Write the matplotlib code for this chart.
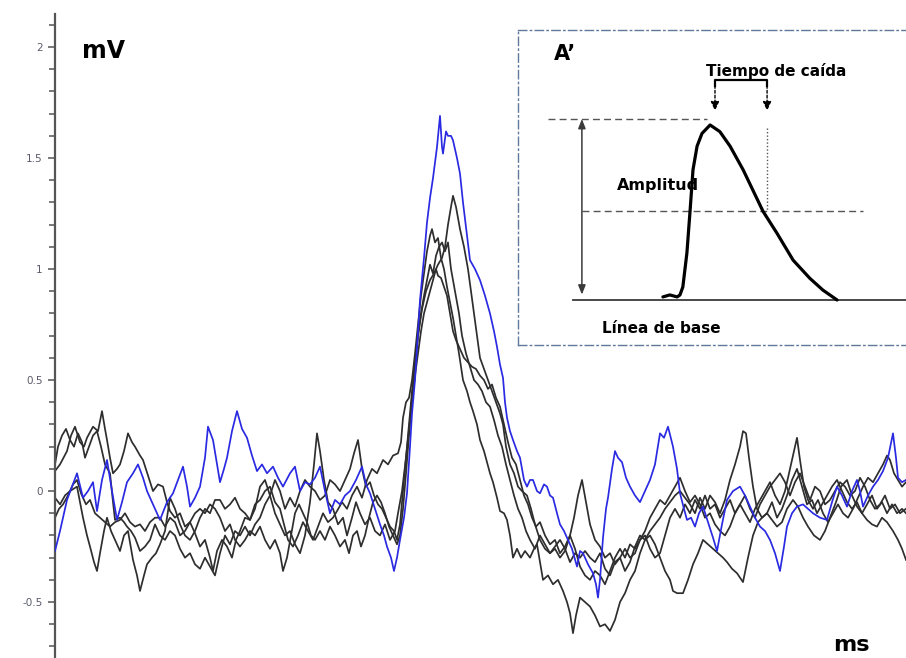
import matplotlib
matplotlib.use("Agg")
import matplotlib.pyplot as plt
import numpy as np

# ---------------- data (sample index at 10 kHz, value in mV) ----------------
SAMPLE_MS = 0.1

blue_s = [0,5,12,17,22,28,33,38,42,47,52,57,62,67,72,78,83,88,92,98,105,112,118,123,128,132,135,140,145,150,
          153,158,162,165,169,172,177,182,187,192,197,202,207,212,218,223,228,235,240,245,250,255,260,265,270,275,280,285,290,295,
          301,307,311,315,320,325,329,332,336,339,342,345,349,352,355,357,360,363,365,369,372,375,378,382,385,387,388,391,393,396,
          398,402,405,408,412,415,420,425,430,435,439,442,445,448,450,452,455,458,462,465,469,472,475,478,482,485,489,492,495,498,
          502,505,509,512,517,522,525,528,533,538,541,543,545,548,551,553,557,560,563,567,571,575,580,585,590,595,600,605,609,613,
          618,622,625,629,632,636,640,644,648,653,658,662,667,672,678,685,690,695,700,705,710,715,720,725,729,732,737,742,748,753,
          758,765,772,777,782,787,792,797,802,805,808,813,818,823,828,833,838,841,843,847,851]
blue_v = [-0.27,-0.18,-0.04,0.02,0.08,-0.03,0.0,0.04,-0.09,0.05,0.14,0.0,-0.13,-0.05,0.04,0.08,0.12,0.06,0.0,-0.06,
          -0.13,-0.05,-0.01,0.05,0.11,0.02,-0.07,-0.03,0.02,0.15,0.29,0.23,0.12,0.04,0.10,0.15,0.27,0.36,0.28,0.24,
          0.16,0.09,0.12,0.08,0.11,0.06,0.02,0.08,0.11,0.0,0.04,0.03,0.06,0.11,0.0,-0.1,-0.04,-0.06,-0.02,0.0,
          0.05,0.11,0.03,-0.01,-0.08,-0.15,-0.2,-0.25,-0.30,-0.36,-0.30,-0.22,-0.12,-0.01,0.2,0.35,0.5,0.72,0.86,1.05,
          1.21,1.32,1.41,1.55,1.69,1.55,1.52,1.62,1.60,1.60,1.58,1.50,1.43,1.30,1.15,1.04,1.00,0.95,0.88,0.80,
          0.72,0.65,0.57,0.51,0.40,0.33,0.27,0.23,0.18,0.15,0.05,0.02,0.05,0.05,0.0,-0.01,0.03,0.02,-0.02,-0.03,
          -0.10,-0.15,-0.18,-0.21,-0.26,-0.34,-0.27,-0.28,-0.33,-0.37,-0.42,-0.48,-0.40,-0.21,-0.08,-0.03,0.10,0.18,0.15,0.13,
          0.06,0.02,-0.02,-0.05,0.0,0.05,0.12,0.26,0.24,0.29,0.20,0.10,-0.01,-0.08,-0.13,-0.12,-0.16,-0.10,-0.07,-0.14,
          -0.21,-0.27,-0.15,-0.04,0.0,0.02,-0.02,-0.07,-0.12,-0.16,-0.18,-0.22,-0.28,-0.36,-0.25,-0.16,-0.10,-0.07,-0.06,-0.08,
          -0.10,-0.12,-0.13,-0.05,0.02,-0.02,-0.07,0.0,0.05,0.0,-0.07,-0.02,0.02,0.05,0.09,0.15,0.26,0.15,0.06,0.04,
          0.05]

black1 = [(0,0.09),(5,0.12),(12,0.18),(16,0.25),(20,0.29),(25,0.22),(29,0.20),(32,0.24),(38,0.29),(43,0.27),(47,0.36),(50,0.28),
          (52,0.23),(55,0.15),(58,0.08),(62,0.10),(65,0.12),(69,0.18),(73,0.26),(77,0.22),(80,0.20),(85,0.16),(88,0.14),(93,0.07),
          (98,0.0),(103,0.03),(108,0.02),(112,-0.05),(115,-0.09),(120,-0.12),(125,-0.10),(130,-0.16),(135,-0.14),(140,-0.19),
          (145,-0.25),(150,-0.22),(155,-0.30),(158,-0.36),(162,-0.27),(167,-0.22),(172,-0.25),(177,-0.30),(181,-0.22),(185,-0.18),
          (190,-0.12),(195,-0.13),(200,-0.08),(205,0.02),(210,0.05),(215,-0.02),(220,-0.10),(225,-0.15),(230,-0.20),(235,-0.18),
          (240,-0.24),(245,-0.28),(250,-0.20),(255,-0.05),(259,0.12),(262,0.26),(265,0.18),(269,0.05),(273,-0.05),(278,-0.08),
          (283,-0.15),(288,-0.12),(292,-0.20),(297,-0.12),(301,-0.05),(305,-0.10),(310,-0.15),(315,-0.12),(320,-0.18),(325,-0.20),
          (330,-0.15),(335,-0.22),(340,-0.18),(343,-0.10),(347,0.0),(351,0.15),(355,0.32),(359,0.52),(363,0.70),(367,0.82),
          (371,0.90),(375,0.95),(379,0.98),(383,1.02),(387,1.05),(390,1.10),(393,1.20),(396,1.28),(398,1.33),(401,1.28),
          (405,1.18),(409,1.10),(413,1.00),(416,0.90),(419,0.80),(422,0.70),(425,0.60),(429,0.55),(433,0.50),(437,0.45),
          (441,0.40),(445,0.35),(448,0.30),(451,0.20),(455,0.12),(459,0.08),(463,0.02),(467,0.0),(472,-0.02),(476,-0.08),
          (480,-0.15),(485,-0.22),(490,-0.26),(495,-0.28),(500,-0.26),(505,-0.30),(510,-0.27),(515,-0.20),(519,-0.12),(523,-0.02),
          (527,0.05),(531,-0.05),(535,-0.15),(540,-0.22),(545,-0.25),(550,-0.30),(555,-0.28),(560,-0.33),(565,-0.30),(570,-0.36),
          (575,-0.32),(580,-0.25),(585,-0.20),(590,-0.22),(595,-0.18),(600,-0.15),(605,-0.12),(610,-0.08),(615,-0.05),(620,-0.02),
          (625,0.0),(630,-0.03),(635,-0.06),(640,-0.10),(645,-0.03),(650,-0.08),(655,-0.02),(660,-0.05),(665,-0.10),(670,-0.04),
          (675,0.05),(680,0.12),(685,0.20),(688,0.27),(691,0.26),(694,0.15),(698,0.02),(702,-0.08),(707,-0.12),(712,-0.10),
          (717,-0.05),(722,-0.12),(727,-0.08),(732,-0.02),(737,0.05),(742,0.10),(747,0.02),(752,-0.06),(757,-0.04),(762,-0.10),
          (767,-0.06),(772,-0.02),(777,0.02),(782,0.05),(787,0.0),(792,-0.05),(797,-0.08),(802,-0.05),(807,-0.10),(812,-0.06),
          (817,-0.02),(822,-0.08),(827,-0.05),(832,-0.10),(837,-0.06),(842,-0.10),(847,-0.08),(851,-0.10)]

black2 = [(0,-0.03),(5,-0.06),(10,-0.02),(15,0.0),(22,0.02),(25,-0.05),(28,-0.12),(32,-0.20),(35,-0.25),(39,-0.32),(42,-0.36),
          (45,-0.28),(49,-0.18),(52,-0.12),(56,-0.18),(60,-0.22),(65,-0.27),(69,-0.20),(73,-0.18),(78,-0.31),(82,-0.38),(85,-0.45),
          (89,-0.38),(92,-0.33),(97,-0.30),(101,-0.28),(105,-0.24),(110,-0.18),(115,-0.03),(120,-0.08),(125,-0.15),(130,-0.20),
          (135,-0.22),(140,-0.18),(145,-0.12),(150,-0.08),(155,-0.10),(160,-0.04),(165,-0.04),(170,-0.08),(175,-0.06),(180,-0.03),
          (185,-0.08),(190,-0.10),(195,-0.13),(200,-0.06),(205,-0.04),(210,0.0),(215,0.02),(220,-0.05),(225,-0.08),(229,-0.15),
          (233,-0.22),(238,-0.25),(243,-0.20),(248,-0.14),(253,-0.18),(258,-0.22),(263,-0.16),(268,-0.10),(273,-0.14),(278,-0.12),
          (282,-0.09),(287,-0.05),(292,-0.08),(297,-0.02),(302,0.02),(307,-0.03),(312,0.05),(317,0.10),(322,0.08),(328,0.14),
          (333,0.12),(338,0.16),(343,0.17),(346,0.22),(348,0.33),(351,0.40),(354,0.42),(357,0.50),(360,0.62),(363,0.75),
          (366,0.88),(369,0.98),(372,1.08),(375,1.15),(377,1.18),(380,1.12),(383,1.14),(386,1.05),(389,1.00),(392,0.92),
          (395,0.85),(398,0.78),(401,0.70),(404,0.62),(408,0.50),(412,0.45),(415,0.40),(418,0.36),(422,0.30),(425,0.23),
          (429,0.18),(432,0.13),(435,0.08),(438,0.04),(442,-0.03),(445,-0.09),(449,-0.10),(452,-0.13),(455,-0.20),(458,-0.30),
          (462,-0.26),(466,-0.30),(470,-0.27),(475,-0.30),(479,-0.26),(482,-0.24),(485,-0.32),(488,-0.40),(493,-0.38),(498,-0.42),
          (503,-0.40),(508,-0.45),(512,-0.50),(515,-0.55),(518,-0.64),(521,-0.56),(525,-0.48),(530,-0.50),(535,-0.52),(540,-0.56),
          (545,-0.61),(550,-0.60),(555,-0.63),(560,-0.58),(565,-0.50),(570,-0.46),(575,-0.40),(580,-0.36),(585,-0.28),(590,-0.22),
          (595,-0.20),(600,-0.24),(605,-0.30),(610,-0.36),(615,-0.40),(618,-0.45),(622,-0.46),(628,-0.46),(633,-0.40),(638,-0.33),
          (643,-0.28),(648,-0.22),(653,-0.24),(658,-0.26),(663,-0.28),(668,-0.30),(672,-0.32),(677,-0.35),(682,-0.37),(688,-0.41),
          (693,-0.30),(698,-0.20),(703,-0.14),(707,-0.12),(712,-0.10),(717,-0.13),(722,-0.16),(727,-0.14),(732,-0.08),(738,-0.04),
          (743,-0.07),(748,-0.12),(753,-0.16),(759,-0.20),(765,-0.22),(770,-0.18),(775,-0.12),(781,-0.05),(786,0.02),(792,0.05),
          (797,-0.02),(802,-0.07),(807,-0.10),(812,-0.13),(817,-0.15),(822,-0.16),(827,-0.12),(832,-0.14),(838,-0.18),(843,-0.22),
          (847,-0.26),(851,-0.31)]

black3 = [(0,0.12),(3,0.20),(7,0.25),(11,0.28),(15,0.23),(19,0.20),(23,0.26),(27,0.22),(30,0.15),(34,0.20),(38,0.25),(42,0.27),
          (46,0.20),(50,0.12),(55,0.08),(58,-0.05),(60,-0.13),(65,-0.12),(69,-0.14),(72,-0.16),(76,-0.18),(80,-0.21),(85,-0.27),
          (90,-0.25),(95,-0.22),(100,-0.15),(105,-0.20),(110,-0.22),(115,-0.18),(120,-0.20),(125,-0.26),(130,-0.30),(135,-0.28),
          (140,-0.33),(145,-0.35),(150,-0.30),(155,-0.34),(160,-0.38),(165,-0.28),(170,-0.20),(175,-0.24),(180,-0.18),(185,-0.20),
          (190,-0.16),(195,-0.20),(200,-0.15),(205,-0.12),(210,-0.06),(215,-0.02),(220,0.05),(225,0.0),(230,-0.08),(235,-0.03),
          (240,-0.07),(245,0.0),(250,0.05),(255,0.02),(260,0.0),(265,-0.04),(270,-0.02),(275,0.05),(280,0.03),(285,0.0),
          (290,0.05),(295,0.10),(299,0.17),(303,0.23),(307,0.10),(311,0.02),(315,0.04),(319,-0.02),(323,-0.06),(327,-0.08),
          (331,-0.12),(335,-0.16),(339,-0.18),(342,-0.22),(345,-0.15),(348,0.0),(351,0.15),(354,0.30),(357,0.45),(360,0.58),
          (363,0.70),(366,0.80),(369,0.88),(372,0.95),(375,1.02),(378,0.98),(381,1.06),(384,1.10),(387,1.12),(390,1.08),
          (393,1.12),(396,1.00),(400,0.90),(404,0.80),(407,0.70),(411,0.62),(415,0.56),(419,0.50),(423,0.48),(427,0.45),
          (431,0.40),(435,0.38),(439,0.32),(443,0.25),(447,0.20),(451,0.12),(455,0.05),(459,-0.02),(463,-0.08),(467,-0.12),
          (471,-0.18),(475,-0.22),(480,-0.26),(485,-0.20),(490,-0.24),(495,-0.28),(500,-0.25),(505,-0.22),(510,-0.26),(515,-0.32),
          (520,-0.28),(525,-0.30),(530,-0.27),(535,-0.30),(540,-0.32),(545,-0.28),(550,-0.35),(555,-0.38),(560,-0.32),(565,-0.30),
          (570,-0.26),(575,-0.30),(580,-0.28),(585,-0.22),(590,-0.18),(595,-0.12),(600,-0.08),(605,-0.04),(610,-0.06),(615,-0.02),
          (620,0.02),(625,0.06),(630,0.0),(635,-0.05),(640,-0.02),(645,-0.06),(650,-0.12),(655,-0.10),(660,-0.15),(665,-0.18),
          (670,-0.20),(675,-0.16),(680,-0.10),(685,-0.06),(690,-0.10),(695,-0.14),(700,-0.08),(705,-0.04),(710,0.0),(715,0.04),
          (720,-0.02),(725,-0.06),(730,0.0),(735,0.10),(739,0.18),(742,0.24),(745,0.14),(749,0.02),(753,-0.04),(758,-0.08),
          (763,-0.04),(768,-0.10),(773,-0.14),(778,-0.10),(783,-0.06),(788,-0.10),(793,-0.12),(798,-0.08),(803,-0.03),(808,0.02),
          (813,0.06),(818,0.04),(823,0.08),(828,0.12),(832,0.16),(835,0.14),(839,0.08),(843,0.05),(847,0.02),(851,0.04)]

black4 = [(0,-0.12),(4,-0.08),(8,-0.06),(13,-0.02),(18,0.03),(22,0.05),(26,-0.01),(31,-0.06),(35,-0.04),(40,-0.10),(45,-0.12),
          (50,-0.14),(55,-0.16),(60,-0.14),(65,-0.13),(70,-0.10),(75,-0.14),(80,-0.16),(85,-0.15),(90,-0.18),(95,-0.14),(100,-0.12),
          (105,-0.12),(110,-0.16),(115,-0.12),(120,-0.14),(125,-0.20),(130,-0.18),(135,-0.14),(140,-0.10),(145,-0.08),(150,-0.10),
          (155,-0.06),(160,-0.08),(165,-0.12),(170,-0.18),(175,-0.15),(180,-0.22),(185,-0.25),(190,-0.22),(195,-0.18),(200,-0.20),
          (205,-0.16),(210,-0.22),(215,-0.26),(220,-0.22),(225,-0.28),(228,-0.36),(232,-0.30),(236,-0.20),(240,-0.10),(244,-0.06),
          (248,-0.10),(252,-0.14),(256,-0.20),(260,-0.22),(265,-0.18),(270,-0.22),(275,-0.16),(280,-0.20),(285,-0.25),(290,-0.22),
          (294,-0.28),(298,-0.20),(302,-0.18),(306,-0.25),(310,-0.20),(314,-0.12),(318,-0.05),(322,-0.02),(326,-0.05),(330,-0.10),
          (334,-0.16),(338,-0.20),(342,-0.24),(345,-0.20),(348,-0.08),(351,0.08),(354,0.25),(357,0.40),(360,0.52),(363,0.62),
          (366,0.72),(369,0.80),(372,0.85),(375,0.90),(378,0.95),(381,1.00),(383,0.97),(386,0.96),(389,0.92),(392,0.88),
          (395,0.80),(398,0.72),(401,0.68),(405,0.64),(409,0.60),(413,0.58),(417,0.56),(421,0.55),(425,0.52),(429,0.50),
          (433,0.46),(437,0.48),(441,0.42),(445,0.38),(449,0.30),(453,0.22),(457,0.15),(461,0.12),(465,0.05),(469,-0.02),
          (473,-0.06),(477,-0.12),(481,-0.16),(485,-0.14),(490,-0.20),(495,-0.24),(500,-0.22),(505,-0.28),(510,-0.25),(515,-0.20),
          (520,-0.26),(525,-0.34),(530,-0.38),(535,-0.40),(540,-0.36),(545,-0.38),(550,-0.42),(555,-0.36),(560,-0.30),(565,-0.26),
          (570,-0.30),(575,-0.24),(580,-0.26),(585,-0.22),(590,-0.20),(595,-0.26),(600,-0.30),(605,-0.28),(610,-0.20),(615,-0.12),
          (620,-0.08),(625,-0.12),(630,-0.06),(635,-0.10),(640,-0.04),(645,-0.08),(650,-0.02),(655,-0.08),(660,-0.06),(665,-0.12),
          (670,-0.08),(675,-0.04),(680,-0.10),(685,-0.06),(690,-0.02),(695,-0.08),(700,-0.12),(705,-0.06),(710,-0.02),(715,0.02),
          (720,0.05),(725,0.08),(730,0.04),(735,-0.02),(740,0.04),(745,0.08),(750,0.02),(755,-0.04),(760,0.02),(765,0.0),
          (770,-0.06),(775,-0.04),(780,0.0),(785,0.04),(790,0.02),(795,-0.02),(800,0.0),(805,0.06),(810,0.02),(815,-0.04),
          (820,-0.08),(825,-0.06),(830,-0.02),(835,-0.08),(840,-0.06),(845,-0.10),(851,-0.08)]

ytick_values = [-0.5, 0, 0.5, 1, 1.5, 2]
ytick_labels = ["-0.5", "0", "0.5", "1", "1.5", "2"]

# schematic (inset) EPSP waveform, arbitrary time units / normalised amplitude
sch_t = [35.6, 37.3, 39.1, 39.8, 40.5, 41.5, 42.3, 43.0, 44.0, 45.2, 47.2, 49.6, 52.1, 55.3, 60.2, 63.6, 67.6, 71.7, 74.9, 78.4]
sch_v = [0.017, 0.028, 0.017, 0.028, 0.072, 0.26, 0.50, 0.72, 0.85, 0.92, 0.967, 0.93, 0.85, 0.72, 0.49, 0.37, 0.22, 0.12, 0.055, 0.0]
sch_base = 0.0
sch_peak = 1.0
sch_half = 0.49
sch_decay_start = 48.4
sch_decay_end = 61.2

# ---------------- figure ----------------
W, H = 906, 658
fig = plt.figure(figsize=(W / 100, H / 100), dpi=100)
fig.patch.set_facecolor("white")

ax = fig.add_axes([55 / W, 0, 851 / W, 1])
ax.set_facecolor("none")

BLACK = "#2e2e2e"
BLUE = "#2a2ae2"
for tr in (black1, black2, black3, black4):
    s, v = zip(*tr)
    ax.plot(np.array(s) * SAMPLE_MS, v, color=BLACK, lw=1.25, zorder=2)
ax.plot(np.array(blue_s) * SAMPLE_MS, blue_v, color=BLUE, lw=1.25, zorder=3)

ax.set_xlim(0, 85.1)
ax.set_ylim(-0.752, 2.212)
for sp in ("top", "right", "bottom"):
    ax.spines[sp].set_visible(False)
ax.spines["left"].set_bounds(-0.752, 2.15)
ax.spines["left"].set_color("#555555")
ax.spines["left"].set_linewidth(1.6)
ax.set_xticks([])
ax.set_yticks(ytick_values, ytick_labels)
ax.set_yticks(np.arange(-0.7, 2.15, 0.1), minor=True)
ax.tick_params(axis="y", which="major", length=5, width=1.1, color="#555555",
               labelsize=7.5, labelcolor="#5a5a6a", pad=4)
ax.tick_params(axis="y", which="minor", length=4, width=1.1, color="#555555")

fig.text(104 / W, 1 - 51 / H, "mV", fontsize=17, fontweight="bold", ha="center", va="center")
fig.text(851 / W, 1 - 645 / H, "ms", fontsize=16, fontweight="bold", ha="center", va="center")

# ---------------- inset schematic ----------------
ins = fig.add_axes([518 / W, 1 - 345 / H, 407 / W, 315 / H])
ins.set_xlim(0, 100)
ins.set_ylim(-0.2486, 1.4917)
ins.set_xticks([])
ins.set_yticks([])
ins.set_facecolor("white")
for sp in ins.spines.values():
    sp.set_linestyle((0, (6, 2.5, 1, 2.5)))
    sp.set_color("#5f7a9c")
    sp.set_linewidth(1.0)

GR = "#3a3a3a"
ins.plot([13.5, 100], [sch_base, sch_base], color=GR, lw=1.3)
ins.plot([7.4, 46.4], [sch_peak, sch_peak], color="#555555", lw=1.0, ls=(0, (5, 3)))
ins.plot([15.7, 84.8], [sch_half, sch_half], color="#555555", lw=1.0, ls=(0, (5, 3)))
ins.plot([sch_decay_end, sch_decay_end], [0.95, sch_half], color="#555555", lw=1.0, ls=(0, (1, 1.5)))
ins.plot(sch_t, sch_v, color="black", lw=2.3, solid_capstyle="round", solid_joinstyle="round")

ins.annotate("", xy=(15.7, sch_peak), xytext=(15.7, 0.03),
             arrowprops=dict(arrowstyle="<|-|>,head_length=0.55,head_width=0.22", color=GR, lw=1.1,
                             shrinkA=0, shrinkB=0))
br_y = 1.215
tip_y = 1.045
ins.plot([sch_decay_start, sch_decay_start, sch_decay_end, sch_decay_end],
         [br_y - 0.03, br_y, br_y, br_y - 0.03], color="black", lw=1.6, solid_joinstyle="round")
for xx in (sch_decay_start, sch_decay_end):
    ins.annotate("", xy=(xx, tip_y), xytext=(xx, br_y - 0.03),
                 arrowprops=dict(arrowstyle="-|>,head_length=0.55,head_width=0.25", color="black", lw=1.0,
                                 ls=(0, (2, 1.5)), shrinkA=0, shrinkB=0))

ins.text(11.5, 1.36, "A\u2019", fontsize=15, fontweight="bold", ha="center", va="center")
ins.text(63.4, 1.265, "Tiempo de caída", fontsize=11, fontweight="bold", ha="center", va="center")
ins.text(34.4, 0.635, "Amplitud", fontsize=11.5, fontweight="bold", ha="center", va="center")
ins.text(35.1, -0.155, "Línea de base", fontsize=11, fontweight="bold", ha="center", va="center")

fig.savefig("out.png", dpi=100)
